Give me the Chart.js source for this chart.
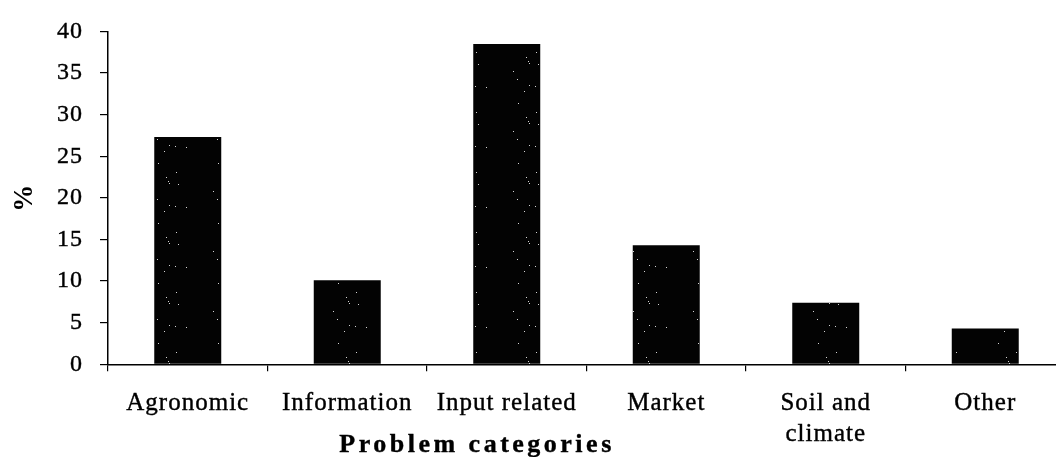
<!DOCTYPE html>
<html>
<head>
<meta charset="utf-8">
<script src="https://cdn.jsdelivr.net/npm/chart.js@4.4.1/dist/chart.umd.min.js"></script>
<style>
  html, body { margin: 0; padding: 0; background: #fff; overflow: hidden; }
  #wrap { width: 1070px; height: 457px; }
</style>
</head>
<body>
<div id="wrap"><canvas id="c" width="1070" height="457"></canvas></div>
<script>
// Share of reported problems per category (%)
const categories = ['Agronomic', 'Information', 'Input related', 'Market', ['Soil and', 'climate'], 'Other'];
const shares = [27.3, 10.1, 38.5, 14.3, 7.4, 4.3];
const yTicks = [0, 5, 10, 15, 20, 25, 30, 35, 40];
const yTitle = '%';
const xTitle = 'Problem categories';

const SERIF = '"Liberation Serif", "Times New Roman", serif';

// Black fill with a light speckle, like a printed halftone bar
function speckleFill() {
  const tile = document.createElement('canvas');
  tile.width = 60; tile.height = 60;
  const t = tile.getContext('2d');
  t.fillStyle = '#030303';
  t.fillRect(0, 0, 60, 60);
  const h = n => { const s = Math.sin(n * 127.1 + 311.7) * 43758.5453; return s - Math.floor(s); };
  t.fillStyle = 'rgba(235,235,235,0.9)';
  for (let i = 0; i < 12; i++) {
    t.fillRect(Math.floor(h(i) * 60), Math.floor(h(i + 50) * 60), 1, 1);
  }
  return t.createPattern(tile, 'repeat');
}

// Slightly open letter spacing for all chart text
const spacing = {
  id: 'spacing',
  beforeUpdate(chart) { chart.ctx.letterSpacing = '1px'; },
  beforeDraw(chart) { chart.ctx.letterSpacing = '1px'; }
};

// Bold axis caption under the category labels
const xCaption = {
  id: 'xCaption',
  afterDraw(chart, args, opts) {
    const ctx = chart.ctx;
    ctx.save();
    ctx.font = 'bold 26px ' + SERIF;
    ctx.letterSpacing = '3.5px';
    ctx.fillStyle = '#000';
    ctx.strokeStyle = '#000';
    ctx.lineWidth = 0.4;
    ctx.textAlign = 'center';
    ctx.textBaseline = 'alphabetic';
    ctx.fillText(opts.text, opts.x, opts.y);
    ctx.strokeText(opts.text, opts.x, opts.y);
    ctx.restore();
  }
};

new Chart(document.getElementById('c'), {
  type: 'bar',
  data: {
    labels: categories,
    datasets: [{
      data: shares,
      backgroundColor: speckleFill(),
      borderWidth: 0,
      categoryPercentage: 1,
      barPercentage: 0.42
    }]
  },
  options: {
    responsive: false,
    animation: false,
    layout: { padding: { top: 29, right: 5, bottom: 0, left: 0 } },
    plugins: {
      legend: { display: false },
      tooltip: { enabled: false },
      xCaption: { text: xTitle, x: 477, y: 452 }
    },
    scales: {
      x: {
        afterFit(s) { s.height = 92.7; },
        grid: { display: true, drawOnChartArea: false, drawTicks: true, tickLength: 7, color: '#000', lineWidth: 1.2, offset: true },
        border: { display: true, color: '#000', width: 1.5 },
        ticks: { color: '#000', padding: 17, maxRotation: 0, autoSkip: false,
                 textStrokeColor: '#000', textStrokeWidth: 0.4,
                 font: { family: SERIF, size: 25, lineHeight: 1.22 } }
      },
      y: {
        min: 0, max: 40,
        afterFit(s) { s.width = 108; },
        afterBuildTicks(s) { s.ticks = yTicks.map(v => ({ value: v })); },
        grid: { display: true, drawOnChartArea: false, drawTicks: true, tickLength: 8, color: '#000', lineWidth: 1.2 },
        border: { display: true, color: '#000', width: 1.5 },
        ticks: { color: '#000', padding: 17, textStrokeColor: '#000', textStrokeWidth: 0.4,
                 font: { family: SERIF, size: 24 } },
        title: { display: true, text: yTitle, color: '#000', padding: { top: 9, bottom: 0 },
                 font: { family: SERIF, size: 27, weight: 'bold' } }
      }
    }
  },
  plugins: [spacing, xCaption]
});
</script>
</body>
</html>
